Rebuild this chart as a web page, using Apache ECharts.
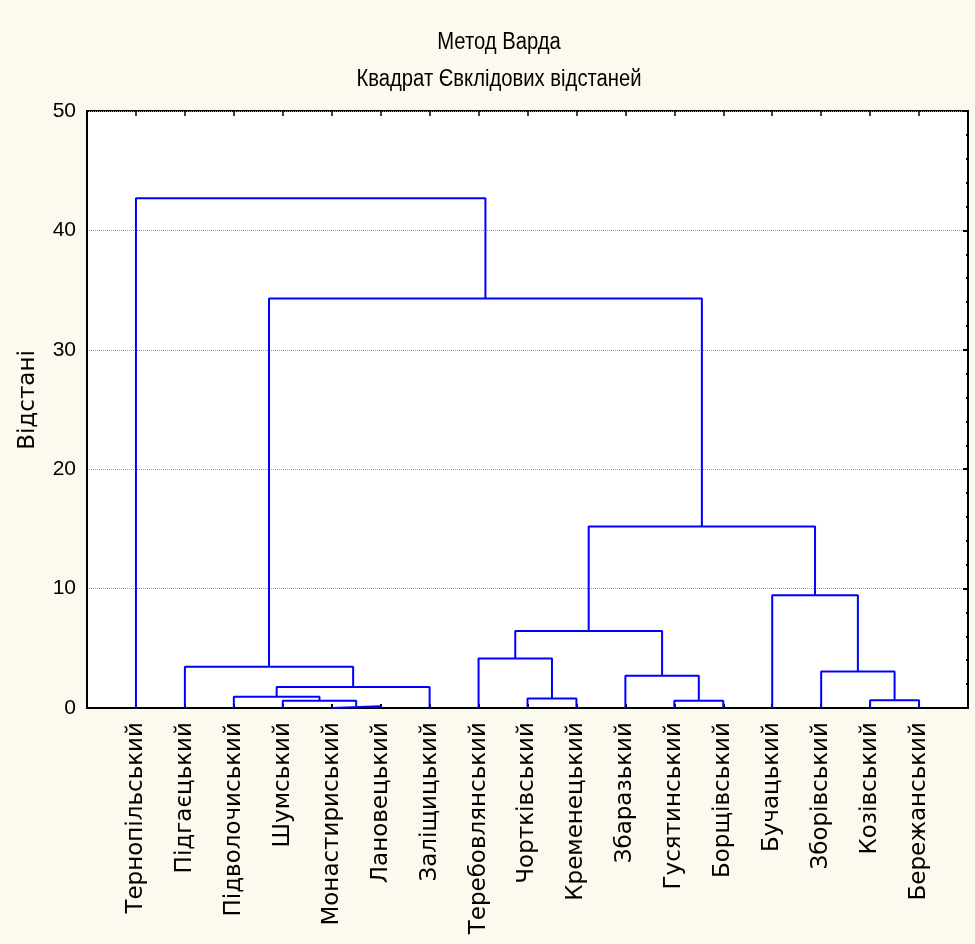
<!DOCTYPE html>
<html><head><meta charset="utf-8">
<script src="https://cdn.jsdelivr.net/npm/echarts@6/dist/echarts.min.js"></script>
<style>html,body{margin:0;padding:0;background:#fcf9ee}#c{width:975px;height:944px}</style>
</head><body><div id="c"></div>
<script>
// Leaves in dendrogram order
const leaves = ["Тернопільський","Підгаєцький","Підволочиський","Шумський","Монастириський","Лановецький","Заліщицький","Теребовлянський","Чортківський","Кременецький","Збаразький","Гусятинський","Борщівський","Бучацький","Зборівський","Козівський","Бережанський"];
// Merges: [clusterA, clusterB, distance]; new cluster ids start at leaves.length
const mergeA = [4, 3, 11, 15, 8, 2, 22, 10, 14, 1, 7, 27, 13, 28, 26, 0];
const mergeB = [5, 17, 12, 16, 9, 18, 6, 19, 20, 23, 21, 24, 25, 29, 30, 31];
const mergeH = [0.15, 0.6, 0.6, 0.65, 0.8, 0.95, 1.75, 2.7, 3.05, 3.45, 4.15, 6.45, 9.45, 15.2, 34.3, 42.7];
const yTicks = [0, 10, 20, 30, 40, 50];

const nodeX = leaves.map((_, i) => i + 1);
const nodeH = leaves.map(() => 0);
const series = [];
for (let k = 0; k < mergeA.length; k++) {
  const a = mergeA[k], b = mergeB[k], h = mergeH[k];
  series.push({
    type: 'line', symbol: 'none', animation: false, z: 5,
    lineStyle: { color: '#0000ff', width: 2 },
    data: [[nodeX[a], nodeH[a]], [nodeX[a], h], [nodeX[b], h], [nodeX[b], nodeH[b]]]
  });
  nodeX.push((nodeX[a] + nodeX[b]) / 2);
  nodeH.push(h);
}

const chart = echarts.init(document.getElementById('c'));
chart.setOption({
  backgroundColor: '#fcf9ee',
  animation: false,
  grid: { left: 87, right: 7, top: 111, bottom: 236, show: true, backgroundColor: '#ffffff', borderColor: '#000', borderWidth: 2 },
  graphic: [
    { type: 'text', x: 499, y: 43, scaleX: 0.88, style: { text: 'Метод Варда', font: '23px "Liberation Sans"', fill: '#000', textAlign: 'center', textVerticalAlign: 'middle' } },
    { type: 'text', x: 499, y: 80, scaleX: 0.88, style: { text: 'Квадрат Євклідових відстаней', font: '23px "Liberation Sans"', fill: '#000', textAlign: 'center', textVerticalAlign: 'middle' } },
    { type: 'text', x: 28, y: 400, rotation: Math.PI / 2, style: { text: 'Відстані', font: '23px "DejaVu Sans"', fill: '#000', textAlign: 'center', textVerticalAlign: 'middle' } }
  ],
  xAxis: [
    { type: 'value', min: 0, max: leaves.length + 1, interval: 1, position: 'bottom',
      axisLine: { onZero: false, lineStyle: { color: '#000', width: 2 } },
      axisTick: { inside: true, length: 4, lineStyle: { color: '#000', width: 2 } },
      splitLine: { show: false },
      axisLabel: { rotate: 90, margin: 14, color: '#000', fontFamily: 'DejaVu Sans', fontSize: 23,
        formatter: v => (v >= 1 && v <= leaves.length) ? leaves[v - 1] : '' } },
    { type: 'value', min: 0, max: leaves.length + 1, interval: 1, position: 'top',
      axisLine: { show: false, onZero: false },
      axisTick: { inside: true, length: 5, lineStyle: { color: '#000', width: 1.5 } },
      splitLine: { show: false }, axisLabel: { show: false } }
  ],
  yAxis: [
    { type: 'value', min: yTicks[0], max: yTicks[yTicks.length - 1], interval: 10, position: 'left',
      axisLine: { show: true, onZero: false, lineStyle: { color: '#000', width: 2 } },
      axisTick: { show: false },
      splitLine: { show: true, lineStyle: { color: '#9a9a9a', type: 'dotted', width: 1 } },
      axisLabel: { margin: 11, color: '#000', fontFamily: 'Liberation Sans', fontSize: 21 } },
    { type: 'value', min: 0, max: 50, interval: 10, position: 'right',
      axisLine: { show: false, onZero: false },
      axisTick: { inside: true, length: 5, lineStyle: { color: '#000', width: 2 } },
      minorTick: { show: true, splitNumber: 5, length: 2, lineStyle: { color: '#000', width: 2 } },
      splitLine: { show: false }, axisLabel: { show: false } }
  ],
  series: series
});
</script></body></html>
